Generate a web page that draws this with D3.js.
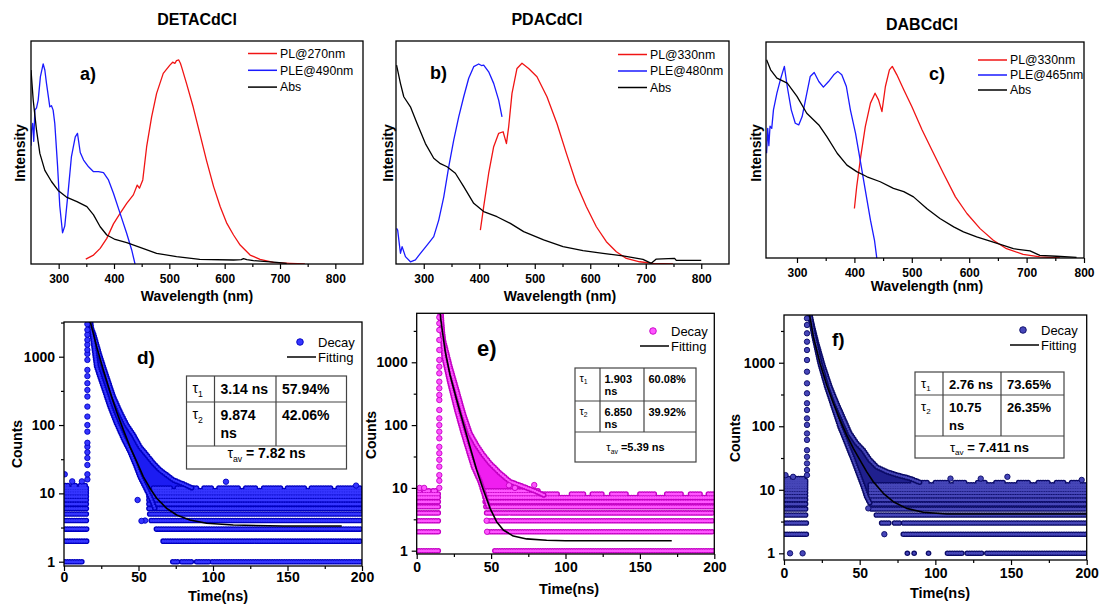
<!DOCTYPE html>
<html>
<head>
<meta charset="utf-8">
<script src="https://cdn.jsdelivr.net/npm/d3@7"></script>
<style>
  body { margin: 0; background: #fff; }
  svg { display: block; }
</style>
</head>
<body>
<svg id="fig" width="1099" height="607"></svg>
<script>
// ---------- Steady-state spectra: [wavelength nm, normalised intensity] ----------
const aPL = [[349,0.022],[363,0.04],[375,0.07],[387,0.115],[399,0.18],[411,0.227],[423,0.272],[435,0.31],[442,0.354],[446,0.34],[452,0.377],[459,0.526],[468,0.66],[477,0.765],[489,0.855],[501,0.892],[506,0.905],[510,0.9],[513,0.912],[517,0.915],[520,0.9],[522,0.885],[531,0.81],[543,0.705],[555,0.586],[567,0.466],[580,0.347],[592,0.257],[604,0.182],[616,0.13],[628,0.085],[646,0.04],[664,0.021],[688,0.007],[718,0.003],[745,0]];
const aPLE = [[250,0.53],[251,0.6],[253,0.63],[255,0.55],[257,0.69],[260,0.7],[263,0.735],[267,0.84],[272,0.897],[275,0.87],[278,0.81],[284,0.705],[287,0.71],[290,0.69],[293,0.63],[298,0.44],[302,0.26],[307,0.14],[311,0.17],[317,0.32],[323,0.48],[330,0.57],[334,0.586],[339,0.5],[345,0.466],[354,0.436],[363,0.414],[372,0.414],[381,0.41],[390,0.377],[399,0.317],[411,0.227],[423,0.137],[432,0.063],[438,0]];
const aAbs = [[250,0.87],[254,0.735],[260,0.6],[266,0.496],[275,0.42],[287,0.37],[299,0.33],[314,0.3],[333,0.28],[351,0.257],[363,0.22],[375,0.167],[387,0.13],[402,0.11],[423,0.096],[447,0.075],[477,0.048],[513,0.033],[555,0.021],[616,0.018],[630,0.02],[634,0.024],[640,0.02],[652,0.015],[694,0.007],[712,0.003]];

const bPL = [[402,0.152],[408,0.257],[417,0.407],[426,0.526],[435,0.586],[443,0.593],[449,0.54],[453,0.615],[459,0.765],[468,0.877],[477,0.9],[489,0.877],[504,0.84],[522,0.75],[540,0.63],[557,0.496],[575,0.36],[593,0.257],[611,0.167],[629,0.1],[647,0.055],[665,0.025],[689,0.01],[713,0.003],[749,0]];
const bPLE = [[251,0.16],[253,0.152],[258,0.048],[261,0.078],[267,0.033],[276,0.01],[285,0.018],[294,0.048],[306,0.085],[318,0.123],[327,0.197],[336,0.3],[345,0.436],[354,0.556],[363,0.66],[372,0.75],[381,0.833],[390,0.885],[399,0.897],[404,0.89],[408,0.892],[417,0.862],[426,0.81],[435,0.735],[441,0.66]];
const bAbs = [[251,0.892],[258,0.81],[264,0.75],[276,0.705],[288,0.63],[303,0.54],[318,0.474],[330,0.45],[342,0.436],[357,0.407],[372,0.347],[390,0.272],[408,0.235],[432,0.212],[456,0.182],[480,0.145],[516,0.108],[551,0.078],[587,0.06],[623,0.048],[659,0.036],[695,0.021],[710,0.003],[719,0.022],[752,0.025],[755,0.016],[800,0.016]];

const cPL = [[400,0.229],[404,0.33],[411,0.469],[419,0.608],[428,0.717],[436,0.763],[442,0.732],[448,0.678],[454,0.794],[461,0.871],[466,0.887],[474,0.848],[486,0.779],[500,0.701],[518,0.593],[535,0.5],[555,0.392],[576,0.283],[596,0.206],[619,0.136],[642,0.082],[665,0.043],[694,0.017],[723,0.005],[758,0]];
const cPLE = [[247,0.485],[249,0.6],[251,0.52],[253,0.61],[256,0.6],[259,0.686],[265,0.763],[271,0.825],[278,0.887],[283,0.794],[290,0.686],[297,0.624],[303,0.616],[309,0.655],[316,0.748],[323,0.84],[330,0.859],[338,0.817],[346,0.791],[355,0.817],[364,0.848],[371,0.864],[378,0.848],[386,0.794],[393,0.686],[402,0.577],[410,0.454],[419,0.314],[428,0.175],[435,0.082],[439,0]];
const cAbs = [[247,0.918],[254,0.871],[265,0.833],[283,0.81],[300,0.748],[317,0.67],[338,0.616],[352,0.562],[370,0.485],[387,0.43],[404,0.4],[422,0.376],[445,0.353],[468,0.322],[486,0.307],[503,0.283],[526,0.229],[549,0.183],[573,0.144],[590,0.121],[613,0.098],[642,0.074],[677,0.043],[706,0.033],[723,0.012],[752,0.008],[787,0.003]];

const wlTicks = [300, 400, 500, 600, 700, 800];
const wlMinor = [350, 450, 550, 650, 750];

// ---------- Decay histograms (time ns, counts) ----------
// rise: counts recorded in the rising channel; upper/lower: envelope of the decay cloud;
// rows: [count, tStart, tEnd] runs of background channels; singles: isolated channels; fit: fitted curve
const dRiseT = 15.7;
const dRise = [16,19,26,33,40,48,55,80,100,133,186,261,326,409,520,641,898,1100,1259,1500,1762,2100,2471,3000];
const dUpper = [[15.8,3600],[16.3,3162],[19.7,2208],[24.2,1004],[28.6,512],[33.1,261],[37.6,157],[42.1,100],[46.5,72],[51.0,48],[55.5,36.5],[60.0,27.6],[64.4,22],[68.9,18.6],[73.4,15.7],[80.1,13.7],[86,12]];
const dLower = [[17.9,3600],[17.9,3162],[21.9,716],[26.4,365],[30.9,186],[35.3,106],[39.8,64],[44.3,40.8],[47.6,27.6],[51.0,17.6],[55.5,11.2],[58.8,8],[61,6]];
const dRows = [[1,0.7,12.4],[2,0.7,15.6],[3,0.7,15.6],[4,0.5,15.6],[5,0.5,15.6],[6,0.5,15.6],[7,0.5,15.6],[8,0.5,15.6],[9,0.5,15.6],[10,0.5,15.6],[11,0.5,15.6],[12,0.5,15.6],[13,1,3],[13,6,8],[13,11,15],
  [1,73,77],[1,79,87],[1,89,98],[1,99.5,200],[2,66.5,200],[3,62,200],[4,58.5,200],[5,57.5,200],[6,57,200],[7,57,200],[8,57,200],[9,57,200],[10,57,200],[11,57,200],
  [12,60,72],[12,76,90],[12,94,100],[12,104,118],[12,122,130],[12,134,146],[12,150,162],[12,166,180],[12,184,200]];
const dSingles = [[0.5,19],[5.5,15],[12,15],[49.4,8],[54.4,4],[52,3.95],[108.7,14.8],[196,13]];
const dFit = [[17,3400],[17.9,3090],[21.9,1406],[26.4,641],[30.9,308],[35.3,157],[39.8,85],[44.3,48],[48.8,29.1],[53.2,17.6],[57.7,11.9],[62.2,8.5],[68.9,6.04],[75.6,4.83],[84.5,4.08],[95.7,3.65],[113.6,3.44],[147.2,3.33],[186.4,3.33]];

const eRiseT = 15.2;
const eRise = [10,13,16,21.8,28,35.6,45,61.6,78.6,100,128,174,251,302,386,491,668,851,1089,1570,2265,3268,4170,5200];
const eUpper = [[15.5,6500],[15.9,5400],[17.9,2265],[22.4,851],[26.9,362],[31.3,154],[35.8,74],[40.3,48],[44.8,33.4],[49.3,24.6],[56,17.1],[62.7,12.6],[71.6,10.5],[80.6,8.7],[86,7.6]];
const eLower = [[16.5,6500],[16.5,5400],[18.3,1228],[22.4,463],[26.9,174],[31.3,74],[34.7,40],[38.1,21.8],[42.6,12.6],[45.9,7.2],[48,5]];
const eRows = [[1,0,15.5],[2,0,15.5],[3,0,15.5],[4,0,15.3],[5,0,15.3],[6,0,15.3],[7,0,15.3],[8,0,15.3],[9,0.5,3],[9,5,9],[9,11,14],
  [1,52.5,200],[2,48.5,200],[3,48.5,200],[4,47,200],[5,46.5,200],[6,46,200],[7,46,200],
  [8,46,96],[8,104,113],[8,118,126],[8,131,141],[8,150,160],[8,168,178],[8,184,191],[8,196,200],[9,46,82]];
const eSingles = [[2,10],[5,10],[47,3],[47.3,2],[79,11.1],[62,11],[66,10]];
const eFit = [[15.8,6500],[16.1,5000],[19,1570],[22.4,628],[26.9,251],[31.3,107],[35.8,45.3],[40.3,19.3],[44.8,9.3],[49.3,4.73],[53.7,2.9],[58.2,2.14],[64.9,1.71],[73.9,1.54],[87.3,1.47],[100,1.44],[171.4,1.44]];

const fRiseT = 15.2;
const fRise = [17,20.5,26,33,42,61,77,105,133,180,230,330,474,722,1103,1585,2143,2904,3924,5000];
const fUpper = [[15.8,6500],[17.2,5300],[21.6,2021],[26,866],[30.4,419],[34.8,230],[39.2,133],[43.6,77],[48,54],[52.4,42],[56.8,29.4],[61.2,23],[67.8,19.3],[74.5,17.1],[83.3,15.1],[90,13]];
const fLower = [[16.8,6500],[19.4,2904],[23.8,979],[28.2,419],[32.6,203],[37,98],[41.4,54],[45.8,29.4],[49.1,18.2],[52.4,11.2],[54.6,7.8],[57,6]];
const fRows = [[2,0.5,16],[3,0.5,16],[4,0,15.4],[5,0,15.4],[6,0,15.4],[7,0,15.4],[8,0,15.4],[9,0,15.4],[10,0,15.4],[11,0,15.4],[12,0,15.4],[13,0,15.4],[14,0,15.4],[15,0,4],[15,8,14],
  [1,81.5,83],[1,86,87.5],[1,95.5,96.5],[1,108,118.5],[1,121,132],[1,134,200],[2,78.8,200],[3,64.5,70],[3,73,77],[3,79,200],
  [4,61,200],[5,58,200],[6,57.5,200],[7,57,200],[8,57,200],[9,57,200],[10,57,200],[11,57,200],[12,57,200],
  [13,85,95],[13,100,108],[13,113,120],[13,128,133],[13,140,146],[13,155,162],[13,168,175],[13,180,186],[13,190,196]];
const fSingles = [[4,1],[12.3,1],[66.3,2],[55.7,5.1],[1,17],[6,16],[147.6,16],[196.7,14.3],[110,15],[130,15]];
const fFit = [[16.5,6500],[19.4,2570],[23.8,979],[28.2,446],[32.6,230],[37,125],[41.4,72.8],[45.8,45],[50.2,29.4],[54.6,19.3],[59,13.4],[65.6,8.8],[72.2,6.5],[81,5.1],[92,4.42],[107.4,4.16],[200,4.16]];

const timeTicks = [0, 50, 100, 150, 200];
const timeMinor = [25, 75, 125, 175];
const countTicks = [1, 10, 100, 1000];
const countMinor = [Math.sqrt(10), Math.sqrt(1000), Math.sqrt(100000), Math.sqrt(10000000)];

// Lifetime tables
const dLifetimes = [['3.14 ns'], ['9.874', 'ns']];
const dShares = ['57.94%', '42.06%'];
const dAverage = ' = 7.82 ns';
const eLifetimes = [['1.903', 'ns'], ['6.850', 'ns']];
const eShares = ['60.08%', '39.92%'];
const eAverage = ' =5.39 ns';
const fLifetimes = [['2.76 ns'], ['10.75', 'ns']];
const fShares = ['73.65%', '26.35%'];
const fAverage = ' = 7.411 ns';

// ---------- drawing ----------
const FONT = '"Liberation Sans", Arial, Helvetica, sans-serif';
const svg = d3.select('#fig').attr('font-family', FONT);
const defs = svg.append('defs');

function label(g, x, y, str, size, opts = {}) {
  const t = g.append('text').attr('x', x).attr('y', y).text(str)
    .attr('font-size', size).attr('font-weight', opts.weight || 'bold')
    .attr('text-anchor', opts.anchor || 'start').attr('fill', '#000');
  if (opts.rotate) t.attr('x', null).attr('y', null).attr('transform', `translate(${x},${y}) rotate(-90)`);
  return t;
}

function styleAxis(ax, size) {
  ax.attr('font-family', FONT).attr('font-size', size).attr('font-weight', 'bold');
  ax.select('.domain').remove();
  ax.selectAll('line').attr('stroke', '#000').attr('stroke-width', 1.2);
  ax.selectAll('text').attr('fill', '#000');
}

function clipFor(id, p) {
  defs.append('clipPath').attr('id', id).append('rect')
    .attr('x', p.left).attr('y', p.top).attr('width', p.right - p.left).attr('height', p.bottom - p.top);
  return `url(#${id})`;
}

function spectrumPanel(p) {
  const g = svg.append('g');
  const x = d3.scaleLinear().domain(p.domain).range([p.left, p.right]);
  const y = d3.scaleLinear().domain([0, 1]).range([p.bottom, p.top]);
  const clip = clipFor('clip-' + p.id, p);
  const line = d3.line().x(d => x(d[0])).y(d => y(d[1]));
  const plot = g.append('g').attr('clip-path', clip);
  p.series.forEach(s => {
    plot.append('path').attr('d', line(s.data)).attr('fill', 'none')
      .attr('stroke', s.color).attr('stroke-width', 1.3).attr('stroke-linejoin', 'round');
  });
  g.append('rect').attr('x', p.left).attr('y', p.top).attr('width', p.right - p.left)
    .attr('height', p.bottom - p.top).attr('fill', 'none').attr('stroke', '#000').attr('stroke-width', 1.3);
  const ax = g.append('g').attr('transform', `translate(0,${p.bottom})`)
    .call(d3.axisBottom(x).tickValues(wlTicks).tickSize(5).tickPadding(5).tickFormat(d3.format('d')));
  styleAxis(ax, 12);
  const axm = g.append('g').attr('transform', `translate(0,${p.bottom})`)
    .call(d3.axisBottom(x).tickValues(wlMinor).tickSize(3).tickFormat(''));
  styleAxis(axm, 12);
  // legend
  p.series.forEach((s, i) => {
    const ly = p.legend.y + i * p.legend.dy;
    g.append('line').attr('x1', p.legend.x).attr('x2', p.legend.x + 29).attr('y1', ly).attr('y2', ly)
      .attr('stroke', s.color).attr('stroke-width', 1.5);
    label(g, p.legend.x + 32, ly + 4.3, s.name, 12.3, { weight: 'normal' });
  });
  label(g, p.title[0], p.title[1], p.titleText, 16, { anchor: 'middle' });
  label(g, p.tag[0], p.tag[1], p.tagText, 18);
  label(g, p.xLabel[0], p.xLabel[1], 'Wavelength (nm)', 14, { anchor: 'middle' });
  label(g, p.yLabel[0], p.yLabel[1], 'Intensity', 14, { anchor: 'middle', rotate: true });
}

function tauText(g, x, y, sub, size, rest) {
  const t = g.append('text').attr('x', x).attr('y', y).attr('font-size', size).attr('fill', '#000');
  t.append('tspan').text('τ').attr('font-weight', 'normal');
  t.append('tspan').text(sub).attr('font-size', size * 0.62).attr('dy', size * 0.25).attr('font-weight', 'normal');
  if (rest) t.append('tspan').text(rest).attr('dy', -size * 0.25).attr('font-weight', 'bold');
  return t;
}

function lifetimeTable(g, t) {
  g.append('rect').attr('x', t.x0).attr('y', t.y0).attr('width', t.x3 - t.x0).attr('height', t.y3 - t.y0)
    .attr('fill', '#fff').attr('stroke', '#444').attr('stroke-width', 1.2);
  [t.y1, t.y2].forEach(yy => g.append('line').attr('x1', t.x0).attr('x2', t.x3).attr('y1', yy).attr('y2', yy)
    .attr('stroke', '#444').attr('stroke-width', 1.2));
  [t.x1, t.x2].forEach(xx => g.append('line').attr('x1', xx).attr('x2', xx).attr('y1', t.y0).attr('y2', t.y2)
    .attr('stroke', '#444').attr('stroke-width', 1.2));
  const rowsTop = [t.y0, t.y1];
  t.lifetimes.forEach((lines, i) => {
    const base = rowsTop[i] + t.firstBase;
    tauText(g, t.x0 + t.pad, base - 1, String(i + 1), t.size);
    lines.forEach((s, j) => label(g, t.x1 + t.pad, base + j * t.lineGap, s, t.size));
    label(g, t.x2 + t.pad, base, t.shares[i], t.size);
  });
  const av = tauText(g, (t.x0 + t.x3) / 2, t.avBase, 'av', t.size, t.average);
  av.attr('text-anchor', 'middle');
}

function decayPanel(p) {
  const g = svg.append('g');
  const x = d3.scaleLinear().domain([0, 200]).range([p.left, p.right]);
  const y = d3.scaleLog().domain(p.yDomain).range([p.bottom, p.top]);
  const clip = clipFor('clip-' + p.id, p);
  const plot = g.append('g').attr('clip-path', clip);
  const seg = d3.line().x(d => x(d[0])).y(d => y(d[1]));
  const closed = d3.line().x(d => x(d[0])).y(d => y(d[1])).curve(d3.curveLinearClosed);
  const dotted = (sel, color, w) => sel.attr('fill', 'none').attr('stroke', color).attr('stroke-width', w)
    .attr('stroke-linecap', 'round').attr('stroke-dasharray', '0 2.4');

  // body of the decay cloud (its lower closing edge is hidden under the background rows)
  const cloud = p.upper.concat(p.lower.slice().reverse());
  plot.append('path').attr('d', closed(cloud)).attr('fill', p.col.fill).attr('stroke', 'none');
  // background channels, drawn as runs of markers
  [[p.col.dark, 5.6], [p.col.light, 3.0]].forEach(([c, w]) => {
    dotted(plot.append('g').selectAll('path').data(p.rows).join('path')
      .attr('d', r => seg([[r[1], r[0]], [r[2], r[0]]])), c, w);
  });
  // scalloped edges of the cloud
  [p.upper, p.lower].forEach(edge => {
    dotted(plot.append('path').attr('d', seg(edge)), p.col.dark, 5.6);
    dotted(plot.append('path').attr('d', seg(edge)), p.col.light, 2.6);
  });
  // rising channel and isolated channels
  const pts = p.rise.map(c => [p.riseT, c]).concat(p.singles);
  plot.append('g').selectAll('circle').data(pts).join('circle')
    .attr('cx', d => x(d[0])).attr('cy', d => y(d[1])).attr('r', 2.7)
    .attr('fill', p.col.light).attr('stroke', p.col.dark).attr('stroke-width', 0.9);
  // fit
  plot.append('path').attr('d', seg(p.fit)).attr('fill', 'none').attr('stroke', '#000')
    .attr('stroke-width', 1.6).attr('stroke-linejoin', 'round');

  g.append('rect').attr('x', p.left).attr('y', p.top).attr('width', p.right - p.left)
    .attr('height', p.bottom - p.top).attr('fill', 'none').attr('stroke', '#000').attr('stroke-width', 1.3);
  const ax = g.append('g').attr('transform', `translate(0,${p.bottom})`)
    .call(d3.axisBottom(x).tickValues(timeTicks).tickSize(5).tickPadding(p.xPad).tickFormat(d3.format('d')));
  styleAxis(ax, 14);
  styleAxis(g.append('g').attr('transform', `translate(0,${p.bottom})`)
    .call(d3.axisBottom(x).tickValues(timeMinor).tickSize(3).tickFormat('')), 14);
  const ay = g.append('g').attr('transform', `translate(${p.left},0)`)
    .call(d3.axisLeft(y).tickValues(countTicks).tickSize(5).tickPadding(4).tickFormat(d3.format('d')));
  styleAxis(ay, 14);
  styleAxis(g.append('g').attr('transform', `translate(${p.left},0)`)
    .call(d3.axisLeft(y).tickValues(countMinor).tickSize(3).tickFormat('')), 14);

  // legend
  g.append('circle').attr('cx', p.legend.x + 13).attr('cy', p.legend.y).attr('r', 3.3)
    .attr('fill', p.col.light).attr('stroke', p.col.dark).attr('stroke-width', 0.9);
  label(g, p.legend.x + 31, p.legend.y + 4.5, 'Decay', 13, { weight: 'normal' });
  g.append('line').attr('x1', p.legend.x).attr('x2', p.legend.x + 29)
    .attr('y1', p.legend.y + 15).attr('y2', p.legend.y + 15).attr('stroke', '#000').attr('stroke-width', 1.5);
  label(g, p.legend.x + 31, p.legend.y + 19.5, 'Fitting', 13, { weight: 'normal' });

  label(g, p.tag[0], p.tag[1], p.tagText, p.tagSize);
  label(g, p.xLabel[0], p.xLabel[1], 'Time(ns)', 14.5, { anchor: 'middle' });
  label(g, p.yLabel[0], p.yLabel[1], 'Counts', 14, { anchor: 'middle', rotate: true });
  lifetimeTable(g, p.table);
}

const RED = '#f01414', BLUE = '#1a1aff', BLACK = '#000';

spectrumPanel({ id: 'a', left: 31, right: 363, top: 41, bottom: 264, domain: [250, 850],
  series: [{ name: 'PL@270nm', color: RED, data: aPL }, { name: 'PLE@490nm', color: BLUE, data: aPLE }, { name: 'Abs', color: BLACK, data: aAbs }],
  legend: { x: 248, y: 53.5, dy: 16.8 }, title: [197, 25], titleText: 'DETACdCl',
  tag: [80, 80], tagText: 'a)', xLabel: [197, 301], yLabel: [25, 153] });

spectrumPanel({ id: 'b', left: 396, right: 729, top: 41, bottom: 264, domain: [250, 850],
  series: [{ name: 'PL@330nm', color: RED, data: bPL }, { name: 'PLE@480nm', color: BLUE, data: bPLE }, { name: 'Abs', color: BLACK, data: bAbs }],
  legend: { x: 618, y: 54.5, dy: 16.5 }, title: [547, 25], titleText: 'PDACdCl',
  tag: [430, 79], tagText: 'b)', xLabel: [560, 301], yLabel: [393, 153] });

spectrumPanel({ id: 'c', left: 766, right: 1084, top: 42, bottom: 258, domain: [246, 800],
  series: [{ name: 'PL@330nm', color: RED, data: cPL }, { name: 'PLE@465nm', color: BLUE, data: cPLE }, { name: 'Abs', color: BLACK, data: cAbs }],
  legend: { x: 978, y: 60, dy: 15 }, title: [922, 30], titleText: 'DABCdCl',
  tag: [929, 80], tagText: 'c)', xLabel: [927, 291], yLabel: [761, 153] });

decayPanel({ id: 'd', left: 64, right: 362, top: 322, bottom: 566, yDomain: [0.865, 3221], xPad: 1,
  col: { dark: '#0000c0', light: '#3535ff', fill: '#1c1cf2' },
  rise: dRise, riseT: dRiseT, upper: dUpper, lower: dLower, rows: dRows, singles: dSingles, fit: dFit,
  legend: { x: 287, y: 342 }, tag: [137, 364], tagText: 'd)', tagSize: 19,
  xLabel: [218, 601], yLabel: [22, 444],
  table: { x0: 186.5, x1: 214.5, x2: 276, x3: 346.5, y0: 376, y1: 402, y2: 446, y3: 469,
    size: 14, pad: 6, firstBase: 18, lineGap: 18, avBase: 458,
    lifetimes: dLifetimes, shares: dShares, average: dAverage } });

decayPanel({ id: 'e', left: 416.7, right: 714.3, top: 313.3, bottom: 554, yDomain: [0.886, 6026], xPad: 3,
  col: { dark: '#c400c4', light: '#ff55ff', fill: '#f01ef0' },
  rise: eRise, riseT: eRiseT, upper: eUpper, lower: eLower, rows: eRows, singles: eSingles, fit: eFit,
  legend: { x: 640, y: 331 }, tag: [477, 356], tagText: 'e)', tagSize: 22,
  xLabel: [569, 594], yLabel: [376, 435],
  table: { x0: 575, x1: 600, x2: 644, x3: 696, y0: 368, y1: 401, y2: 432, y3: 462,
    size: 11, pad: 4.5, firstBase: 14.5, lineGap: 12.5, avBase: 451,
    lifetimes: eLifetimes, shares: eShares, average: eAverage } });

decayPanel({ id: 'f', left: 784, right: 1086.7, top: 315, bottom: 560, yDomain: [0.785, 5640], xPad: 3,
  col: { dark: '#0a0a66', light: '#4646b8', fill: '#20208e' },
  rise: fRise, riseT: fRiseT, upper: fUpper, lower: fLower, rows: fRows, singles: fSingles, fit: fFit,
  legend: { x: 1010, y: 330 }, tag: [832, 346], tagText: 'f)', tagSize: 19,
  xLabel: [940, 598], yLabel: [740, 438],
  table: { x0: 915, x1: 943, x2: 1001, x3: 1064, y0: 372, y1: 395, y2: 436, y3: 458,
    size: 13, pad: 6, firstBase: 17, lineGap: 17.5, avBase: 452,
    lifetimes: fLifetimes, shares: fShares, average: fAverage } });
</script>
</body>
</html>
